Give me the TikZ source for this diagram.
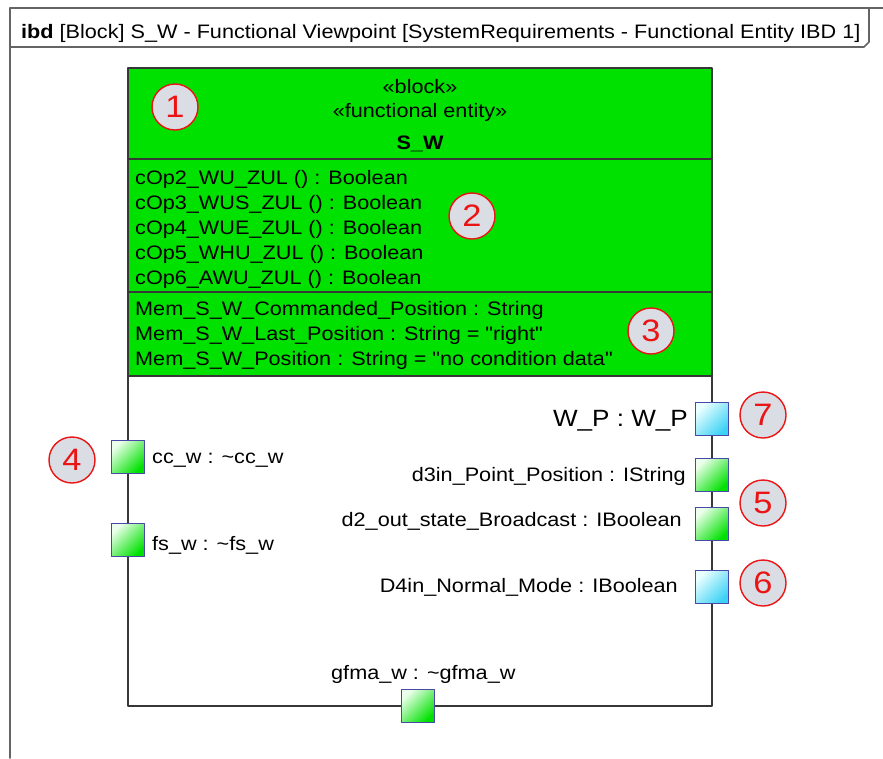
\documentclass[tikz,border=0pt]{standalone}
\usepackage{fontspec}
\newfontfamily\arialfont{Liberation Sans}[FakeStretch=1.11]
\definecolor{blockgreen}{RGB}{0,225,0}
\definecolor{framegray}{RGB}{100,100,100}
\definecolor{blockgray}{RGB}{55,55,55}
\definecolor{portblue}{RGB}{72,72,168}
\definecolor{portcyan}{RGB}{60,210,245}
\definecolor{markred}{RGB}{235,20,20}
\definecolor{markfill}{RGB}{218,221,228}
\begin{document}
\begin{tikzpicture}[x=1pt, y=-1pt, line join=round, line cap=round,
	font=\arialfont\fontsize{19.5}{23}\selectfont,
	frameline/.style={draw=framegray, line width=1.6pt},
	blockline/.style={draw=blockgray, line width=1.6pt},
	port/.style={rectangle, draw=portblue, line width=1.3pt, minimum width=33pt, minimum height=33pt, inner sep=0pt},
	greenport/.style={port, top color=green!8, bottom color=blockgreen, shading angle=45},
	cyanport/.style={port, top color=cyan!8, bottom color=portcyan, shading angle=45},
	numcircle/.style={circle, draw=markred, fill=markfill, line width=1.4pt, minimum size=46pt, inner sep=0pt, text=markred, font=\arialfont\fontsize{31}{31}\selectfont}]
	\def\bl{128} \def\br{712} \def\bt{68} \def\bb{706}
	\useasboundingbox (0,0) rectangle (883,758);
	\draw[frameline] (10,758)--(10,8)--(883,8);
	\draw[frameline] (10,47)--(864,47)--(869,42)--(869,8);
	\node[anchor=base west, inner sep=0pt] (title) at (21,38) {\textbf{ibd} [Block] S\_W - Functional Viewpoint [SystemRequirements - Functional Entity IBD 1]};
	\fill[blockgreen] (\bl,\bt) rectangle (\br,376);
	\draw[blockline] (\bl,\bt) rectangle (\br,\bb);
	\draw[blockline] (\bl,159)--(\br,159);
	\draw[blockline] (\bl,292)--(\br,292);
	\draw[blockline] (\bl,376)--(\br,376);
	\node[anchor=base, inner sep=0pt] (stblock) at (420,93) {«block»};
	\node[anchor=base, inner sep=0pt] (stentity) at (420,117) {«functional entity»};
	\node[anchor=base, inner sep=0pt] (blockname) at (420,149) {\textbf{S\_W}};
	\node[anchor=base west, inner sep=0pt] (optwo) at (135,184) {cOp2\_WU\_ZUL () : Boolean};
	\node[anchor=base west, inner sep=0pt] (opthree) at (135,209) {cOp3\_WUS\_ZUL () : Boolean};
	\node[anchor=base west, inner sep=0pt] (opfour) at (135,234) {cOp4\_WUE\_ZUL () : Boolean};
	\node[anchor=base west, inner sep=0pt] (opfive) at (135,259) {cOp5\_WHU\_ZUL () : Boolean};
	\node[anchor=base west, inner sep=0pt] (opsix) at (135,284) {cOp6\_AWU\_ZUL () : Boolean};
	\node[anchor=base west, inner sep=0pt] (memcmd) at (135,315) {Mem\_S\_W\_Commanded\_Position : String};
	\node[anchor=base west, inner sep=0pt] (memlast) at (135,340) {Mem\_S\_W\_Last\_Position : String = "right"};
	\node[anchor=base west, inner sep=0pt] (mempos) at (135,365) {Mem\_S\_W\_Position : String = "no condition data"};
	\node[greenport] (ccw) at (\bl,457) {};
	\node[greenport] (fsw) at (\bl,540) {};
	\node[cyanport] (wp) at (\br,419) {};
	\node[greenport] (dthree) at (\br,475) {};
	\node[greenport] (dtwo) at (\br,524) {};
	\node[cyanport] (dfour) at (\br,587) {};
	\node[greenport] (gfma) at (418,\bb) {};
	\node[anchor=base west, inner sep=0pt] (ccwlabel) at (152,463) {cc\_w : \textasciitilde cc\_w};
	\node[anchor=base west, inner sep=0pt] (fswlabel) at (152,550) {fs\_w : \textasciitilde fs\_w};
	\node[anchor=base east, inner sep=0pt, font=\arialfont\fontsize{23.5}{26}\selectfont] (wplabel) at (688,426) {W\_P : W\_P};
	\node[anchor=base east, inner sep=0pt] (dthreelabel) at (686,481) {d3in\_Point\_Position : IString};
	\node[anchor=base east, inner sep=0pt] (dtwolabel) at (682,526) {d2\_out\_state\_Broadcast : IBoolean};
	\node[anchor=base east, inner sep=0pt] (dfourlabel) at (678,592) {D4in\_Normal\_Mode : IBoolean};
	\node[anchor=base west, inner sep=0pt] (gfmalabel) at (331,679) {gfma\_w : \textasciitilde gfma\_w};
	\node[numcircle] (n1) at (175,107) {1};
	\node[numcircle] (n2) at (472,216) {2};
	\node[numcircle] (n3) at (651,331) {3};
	\node[numcircle] (n4) at (72,460) {4};
	\node[numcircle] (n5) at (763,503) {5};
	\node[numcircle] (n6) at (763,583) {6};
	\node[numcircle] (n7) at (763,415) {7};
\end{tikzpicture}
\end{document}
